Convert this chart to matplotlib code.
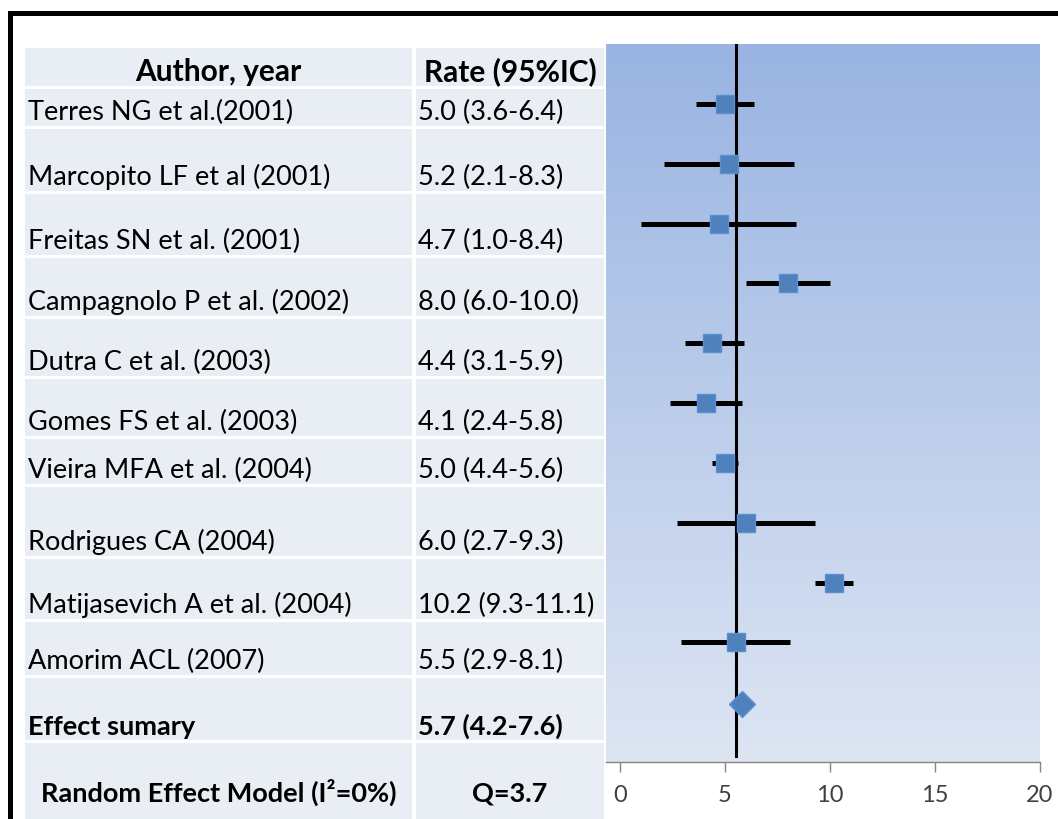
import numpy as np
import matplotlib
matplotlib.use("Agg")
import matplotlib.pyplot as plt
from matplotlib.patches import Rectangle
from matplotlib.colors import LinearSegmentedColormap

plt.rcParams['font.family'] = ['Lato', 'DejaVu Sans']

# data
authors = ["Terres NG et al.(2001)", "Marcopito LF et al (2001)", "Freitas SN et al. (2001)",
           "Campagnolo P et al. (2002)", "Dutra C et al. (2003)", "Gomes FS et al. (2003)",
           "Vieira MFA et al. (2004)", "Rodrigues CA (2004)", "Matijasevich A et al. (2004)",
           "Amorim ACL (2007)"]
rate = [5.0, 5.2, 4.7, 8.0, 4.4, 4.1, 5.0, 6.0, 10.2, 5.5]
low = [3.6, 2.1, 1.0, 6.0, 3.1, 2.4, 4.4, 2.7, 9.3, 2.9]
high = [6.4, 8.3, 8.4, 10.0, 5.9, 5.8, 5.6, 9.3, 11.1, 8.1]
summary_label = "Effect sumary"
summary_text = "5.7 (4.2-7.6)"
summary_point = 5.8
ref_line = 5.5
model_label = "Random Effect Model (I\u00b2=0%)"
model_q = "Q=3.7"
headers = ["Author, year", "Rate (95%IC)"]
xticks = [0, 5, 10, 15, 20]

W, H = 1058, 820
fig = plt.figure(figsize=(W / 100, H / 100), dpi=100)
fig.patch.set_facecolor('white')

# table drawn in pixel coordinates
tab = fig.add_axes([0, 0, 1, 1])
tab.set_xlim(0, W)
tab.set_ylim(H, 0)
tab.axis('off')

row_edges = [47, 88, 128, 193, 257, 318, 378, 438, 486, 558, 621, 677, 742, 830]
col_edges = [(25, 412), (416, 604)]
cell_color = '#e9edf4'
for top, bottom in zip(row_edges[:-1], row_edges[1:]):
    for x0, x1 in col_edges:
        tab.add_patch(Rectangle((x0, top + 1.5), x1 - x0, bottom - top - 3,
                                facecolor=cell_color, edgecolor='none'))

col1_mid = (col_edges[0][0] + col_edges[0][1]) / 2
col2_mid = (col_edges[1][0] + col_edges[1][1]) / 2
fs = 19.5

tab.text(col1_mid, row_edges[1] - 7, headers[0], ha='center', va='baseline',
         fontsize=21.5, fontweight='bold', color='black')
tab.text(col2_mid, row_edges[1] - 7, headers[1], ha='center', va='baseline',
         fontsize=21.5, fontweight='bold', color='black')

for i, name in enumerate(authors):
    base = row_edges[i + 2] - 8
    tab.text(28, base, name, ha='left', va='baseline', fontsize=fs, color='black')
    tab.text(418, base, f"{rate[i]:.1f} ({low[i]:.1f}-{high[i]:.1f})",
             ha='left', va='baseline', fontsize=fs, color='black')

base = row_edges[12] - 7
tab.text(28, base, summary_label, ha='left', va='baseline', fontsize=fs,
         fontweight='bold', color='black')
tab.text(418, base, summary_text, ha='left', va='baseline', fontsize=fs,
         fontweight='bold', color='black')

tab.text(col1_mid, 802, model_label, ha='center', va='baseline', fontsize=fs,
         fontweight='bold', color='black')
tab.text(col2_mid, 802, model_q, ha='center', va='baseline', fontsize=fs,
         fontweight='bold', color='black')

# black frame around the slide
tab.plot([10, W + 10], [14, 14], color='black', lw=3.6, solid_capstyle='projecting')
tab.plot([10, 10], [14, H + 10], color='black', lw=3.6, solid_capstyle='projecting')

# forest plot
px0, px1, py_top, py_axis = 606, 1040, 45, 763
ax = fig.add_axes([px0 / W, (H - py_axis) / H, (px1 - px0) / W, (py_axis - py_top) / H])
xmin = (px0 - 620) / 21.0
ax.set_xlim(xmin, 20)
ax.set_ylim(0, 12)

grad = LinearSegmentedColormap.from_list('g', ['#dde5f3', '#99b4e2'])
ax.imshow(np.linspace(0, 1, 256).reshape(-1, 1), cmap=grad, aspect='auto',
          extent=[xmin, 20, 0, 12], origin='lower', zorder=0)

n = len(authors)
ys = np.arange(n, 0, -1) + 1.0
ax.plot([ref_line, ref_line], [0.1, 12], color='black', lw=2.2, zorder=2)
ax.hlines(ys, low, high, color='black', lw=3.6, zorder=3)
ax.plot(rate, ys, 's', ms=13.5, color='#4f81bd', mec='#5b8fcf', mew=1, zorder=4)
ax.plot([summary_point], [0.97], 'D', ms=13, color='#4f81bd', mec='#5b8fcf', mew=1, zorder=4)

for s in ['top', 'left', 'right']:
    ax.spines[s].set_visible(False)
ax.spines['bottom'].set_color('#868686')
ax.spines['bottom'].set_linewidth(1)
ax.set_yticks([])
ax.set_xticks(xticks)
ax.tick_params(axis='x', direction='out', length=7, width=1, color='#868686',
               labelsize=17, labelcolor='#404040', pad=9)

fig.savefig('out.png', dpi=100)
